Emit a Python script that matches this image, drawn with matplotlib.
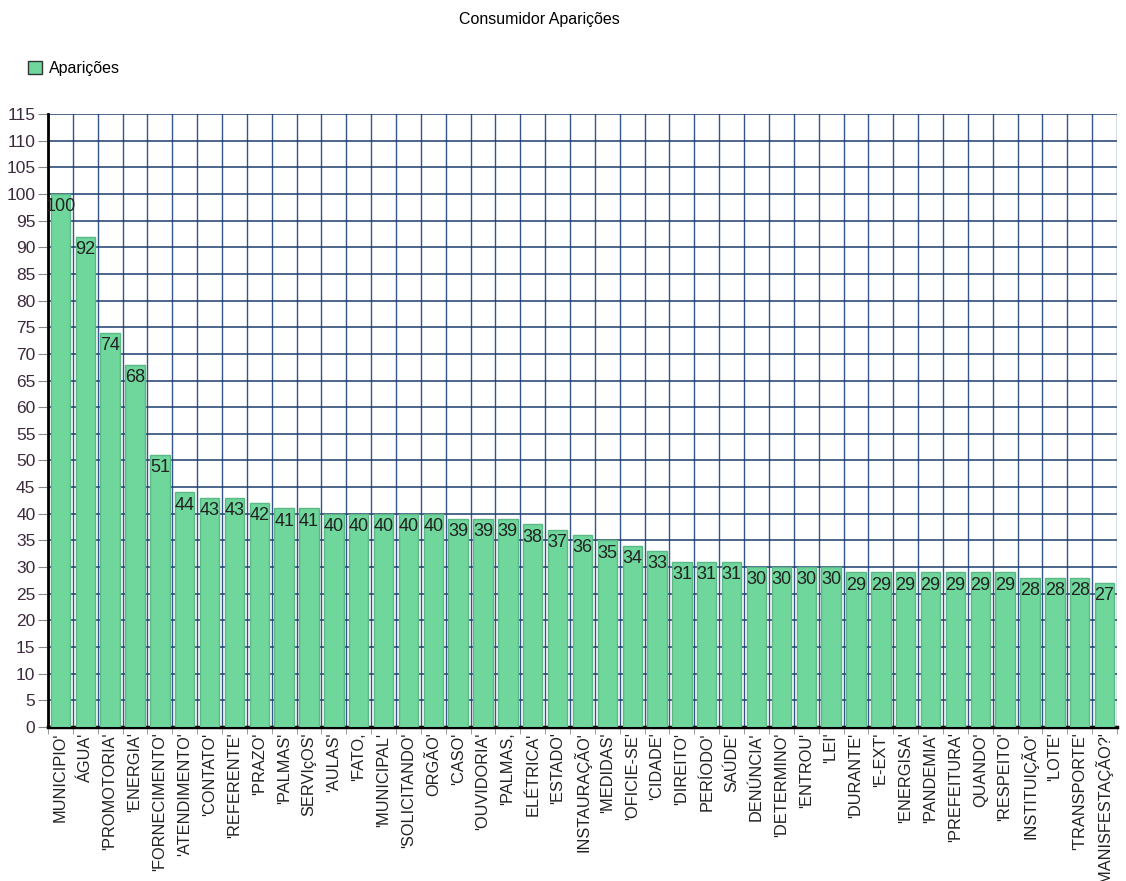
import matplotlib
matplotlib.use("Agg")
import matplotlib.pyplot as plt
import numpy as np
from matplotlib.patches import Patch
from matplotlib.ticker import MultipleLocator, FixedLocator

plt.rcParams['font.family'] = ['Liberation Sans', 'DejaVu Sans']

palavras = ["MUNICIPIO'", "ÁGUA'", "'PROMOTORIA'", "'ENERGIA'", "'FORNECIMENTO'",
            "'ATENDIMENTO'", "'CONTATO'", "'REFERENTE'", "'PRAZO'", "'PALMAS'",
            "SERVIçOS'", "'AULAS'", "'FATO,", "'MUNICIPAL'", "'SOLICITANDO'",
            "ORGÃO'", "'CASO'", "'OUVIDORIA'", "'PALMAS,", "ELÉTRICA'",
            "'ESTADO'", "INSTAURAÇÃO'", "'MEDIDAS'", "'OFICIE-SE'", "'CIDADE'",
            "'DIREITO'", "PERÍODO'", "SAÚDE'", "DENÚNCIA'", "'DETERMINO'",
            "'ENTROU'", "'LEI'", "'DURANTE'", "'E-EXT'", "'ENERGISA'",
            "'PANDEMIA'", "'PREFEITURA'", "QUANDO'", "'RESPEITO'", "INSTITUIÇÃO'",
            "'LOTE'", "'TRANSPORTE'", "'MANISFESTAÇÃO?'"]
aparicoes = [100, 92, 74, 68, 51, 44, 43, 43, 42, 41,
             41, 40, 40, 40, 40, 40, 39, 39, 39, 38,
             37, 36, 35, 34, 33, 31, 31, 31, 30, 30,
             30, 30, 29, 29, 29, 29, 29, 29, 29, 28,
             28, 28, 27]

fig = plt.figure(figsize=(11.26, 8.81), dpi=100)
ax = fig.add_axes([0.0426, 0.1748, 0.9494, 0.6958])

x = np.arange(len(palavras))
ax.bar(x, aparicoes, width=0.78, color='#6fd69c', edgecolor='#5cb985',
       linewidth=1, zorder=3)

# rótulo de valor dentro do topo de cada barra
for xi, v in zip(x, aparicoes):
    ax.annotate(str(v), (xi, v), xytext=(0, -3), textcoords='offset points',
                ha='center', va='top', fontsize=13, color='#222222', zorder=4)

ax.set_xlim(-0.5, len(palavras) - 0.5)
ax.set_ylim(0, 115)
ax.yaxis.set_major_locator(MultipleLocator(5))

ax.set_xticks(x)
ax.set_xticklabels(palavras, rotation=90, fontsize=11.8, color='#222222')
ax.xaxis.set_minor_locator(FixedLocator(np.arange(-0.5, len(palavras), 1)))
ax.tick_params(axis='x', which='major', length=0, pad=4)
ax.tick_params(axis='x', which='minor', length=5, color='#888888')
ax.tick_params(axis='y', length=7, color='#888888', labelsize=12.5,
               labelcolor='#3d2a3d', pad=2)

ax.grid(axis='y', which='major', color='#1c3d6e', linewidth=1.1, zorder=0)
ax.grid(axis='x', which='minor', color='#35558a', linewidth=1.0, zorder=0)

for lado in ['top', 'right']:
    ax.spines[lado].set_visible(False)
ax.spines['left'].set_linewidth(2)
ax.spines['bottom'].set_linewidth(2.5)
ax.spines['left'].set_color('black')
ax.spines['bottom'].set_color('black')

fig.text(0.479, 0.978, 'Consumidor Aparições', ha='center', va='center', fontsize=11.5)
legenda = Patch(facecolor='#6fd69c', edgecolor='#333333', linewidth=1)
fig.legend(handles=[legenda], labels=['Aparições'], loc='center left',
           bbox_to_anchor=(0.012, 0.922), frameon=False, fontsize=11.5,
           handlelength=0.9, handleheight=0.9, handletextpad=0.4)

fig.savefig('out.png', dpi=100)
